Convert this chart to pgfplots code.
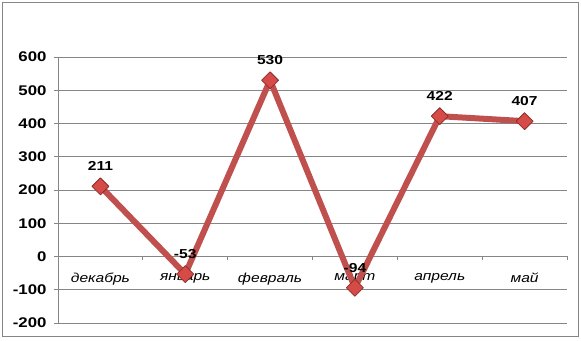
\documentclass[border=0pt]{standalone}
\usepackage{fontspec}
\setmainfont{Liberation Sans}[FakeStretch=1.2]
\usepackage{pgfplots}
\pgfplotsset{compat=1.18}
\definecolor{linered}{HTML}{C0504D}
\definecolor{markred}{HTML}{D54B47}
\definecolor{markedge}{HTML}{8E2C2A}
\definecolor{gridc}{HTML}{868686}
\begin{document}
\begin{tikzpicture}
\begin{axis}[
  scale only axis,
  width=509pt, height=266pt,
  xmin=-0.5, xmax=5.5,
  ymin=-200, ymax=600,
  ytick={-200,-100,0,100,200,300,400,500,600},
  xtick={0,1,2,3,4,5},
  xticklabels={декабрь,январь,февраль,март,апрель,май},
  minor xtick={-0.5,0.5,1.5,2.5,3.5,4.5,5.5},
  axis x line*=middle,
  axis y line*=left,
  axis line style={gridc, line width=0.8pt, -},
  x axis line style={-},
  ymajorgrids,
  grid style={gridc, line width=0.8pt},
  major x tick style={draw=none},
  minor x tick style={gridc, line width=0.8pt},
  minor tick length=4pt,
  major tick length=4pt,
  ytick style={gridc, line width=0.8pt},
  tick align=outside,
  xticklabel style={font=\fontsize{13}{15}\selectfont\itshape, yshift=-9pt, text=black},
  yticklabel style={font=\fontsize{14}{16}\selectfont\bfseries, xshift=-4pt},
  /pgf/number format/assume math mode=true,
  clip=false,
  nodes near coords,
  every node near coord/.append style={font=\fontsize{13}{15}\selectfont\bfseries, text=black, anchor=south, inner sep=0pt, yshift=15pt},
]
\addplot[linered, line width=6pt, line join=round,
  mark=square*, mark size=6pt,
  mark options={rotate=45, fill=markred, draw=markedge, line width=0.8pt}]
  coordinates {(0,211) (1,-53) (2,530) (3,-94) (4,422) (5,407)};
\end{axis}
\draw[gridc, line width=1pt] ([shift={(-55pt,-14pt)}]current axis.south west) rectangle ([shift={(11pt,54pt)}]current axis.north east);
\path ([shift={(-58pt,-18pt)}]current axis.south west) rectangle ([shift={(14pt,57pt)}]current axis.north east);
\end{tikzpicture}
\end{document}
